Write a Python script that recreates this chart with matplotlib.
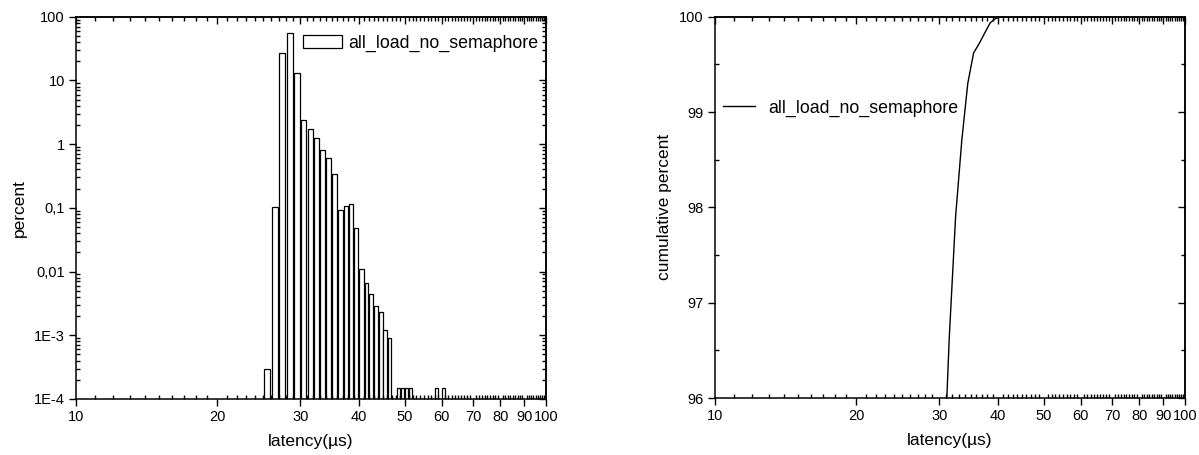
import numpy as np
import matplotlib.pyplot as plt
from matplotlib.ticker import FixedLocator, FixedFormatter, NullFormatter, LogLocator

plt.rcParams['font.family'] = ['Liberation Sans', 'DejaVu Sans']

# histogram: latency bin (µs, left edge) and percent of samples
bins = [25, 26, 27, 28, 29, 30, 31, 32, 33, 34, 35, 36, 37, 38, 39, 40, 41, 42,
        43, 44, 45, 46, 48, 49, 50, 51, 58, 60]
percent = [3.0e-4, 0.102, 27.1, 56.0, 13.1, 2.42, 1.72, 1.26, 0.805, 0.609,
           0.337, 0.0925, 0.108, 0.1135, 0.0475, 0.0111, 0.0067, 0.0044,
           0.0029, 0.0023, 0.00122, 0.00091, 1.5e-4, 1.5e-4, 1.5e-4, 1.5e-4,
           1.5e-4, 1.5e-4]

# cumulative curve
cum_x = [25.5, 26.5, 27.5, 28.5, 29.5, 30.5, 31.5, 32.5, 33.5, 34.5, 35.5,
         36.5, 37.5, 38.5, 39.5, 40.5, 41.5, 45.5, 50.5, 60.5]
cum_pct = [0.0003, 0.1, 24.0, 80.0, 92.5, 94.9, 96.62, 97.9, 98.7, 99.3,
           99.62, 99.72, 99.83, 99.935, 99.98, 99.995, 99.998, 99.999,
           100.0, 100.0]

series = 'all_load_no_semaphore'
x_major = [10, 20, 30, 40, 50, 60, 70, 80, 90, 100]
x_labels = ['10', '20', '30', '40', '50', '60', '70', '80', '90', '100']
x_minor = [v for v in range(11, 100) if v % 10 != 0]
y1_major = [1e-4, 1e-3, 1e-2, 1e-1, 1, 10, 100]
y1_labels = ['1E-4', '1E-3', '0,01', '0,1', '1', '10', '100']
y2_major = [96, 97, 98, 99, 100]
y2_minor = [96.5, 97.5, 98.5, 99.5]

W, H = 1199, 455
fig = plt.figure(figsize=(W / 100, H / 100), dpi=100)
ax1 = fig.add_axes([76 / W, 1 - 399 / H, 470 / W, (399 - 16.7) / H])
ax2 = fig.add_axes([715 / W, 1 - 398 / H, 470 / W, (398 - 16.7) / H])

def style(ax, ymaj, ylab, ymin_loc):
    ax.set_xscale('log')
    ax.set_xlim(10, 100)
    ax.xaxis.set_major_locator(FixedLocator(x_major))
    ax.xaxis.set_major_formatter(FixedFormatter(x_labels))
    ax.xaxis.set_minor_locator(FixedLocator(x_minor))
    ax.xaxis.set_minor_formatter(NullFormatter())
    ax.yaxis.set_major_locator(FixedLocator(ymaj))
    ax.yaxis.set_major_formatter(FixedFormatter(ylab))
    ax.yaxis.set_minor_locator(ymin_loc)
    ax.yaxis.set_minor_formatter(NullFormatter())
    ax.tick_params(which='major', direction='out', length=5, width=1,
                   labelsize=10.5, pad=3)
    ax.tick_params(which='minor', direction='in', length=3, width=1)
    for s in ax.spines.values():
        s.set_linewidth(1.1)
    # top and right axes carry inward ticks only
    top = ax.secondary_xaxis('top')
    top.xaxis.set_major_locator(FixedLocator(x_major))
    top.xaxis.set_minor_locator(FixedLocator(x_minor))
    top.xaxis.set_major_formatter(NullFormatter())
    top.xaxis.set_minor_formatter(NullFormatter())
    top.tick_params(which='major', direction='in', length=5, width=1)
    top.tick_params(which='minor', direction='in', length=3, width=1)
    top.spines['top'].set_linewidth(1.1)
    right = ax.secondary_yaxis('right')
    right.yaxis.set_major_locator(FixedLocator(ymaj))
    right.yaxis.set_minor_locator(ymin_loc)
    right.yaxis.set_major_formatter(NullFormatter())
    right.yaxis.set_minor_formatter(NullFormatter())
    right.tick_params(which='major', direction='in', length=5, width=1)
    right.tick_params(which='minor', direction='in', length=3, width=1)
    right.spines['right'].set_linewidth(1.1)
    ax.set_xlabel('latency(µs)', fontsize=12.5, labelpad=7)

# left: histogram
ax1.set_yscale('log')
ax1.set_ylim(1e-4, 100)
ax1.bar(np.array(bins) + 0.5, percent, width=0.8, bottom=1e-6,
        color='white', edgecolor='black', linewidth=0.9, label=series)
style(ax1, y1_major, y1_labels, LogLocator(base=10, subs=np.arange(2, 10)))
ax1.set_ylabel('percent', fontsize=12.5, labelpad=5)
ax1.legend(loc='center left', bbox_to_anchor=((303 - 76) / 470, 0.931),
           frameon=False, fontsize=12.8, handlelength=2.2, handleheight=0.8,
           handletextpad=0.35, borderpad=0, borderaxespad=0)

# right: cumulative
ax2.set_ylim(96, 100)
ax2.plot(cum_x, cum_pct, color='black', linewidth=1.0, label=series)
style(ax2, y2_major, [str(v) for v in y2_major], FixedLocator(y2_minor))
ax2.set_ylabel('cumulative percent', fontsize=12.5, labelpad=5)
ax2.legend(loc='center left', bbox_to_anchor=((723 - 715) / 470, 0.7606),
           frameon=False, fontsize=12.8, handlelength=1.8,
           handletextpad=0.75, borderpad=0, borderaxespad=0)

fig.savefig('out.png', dpi=100)
